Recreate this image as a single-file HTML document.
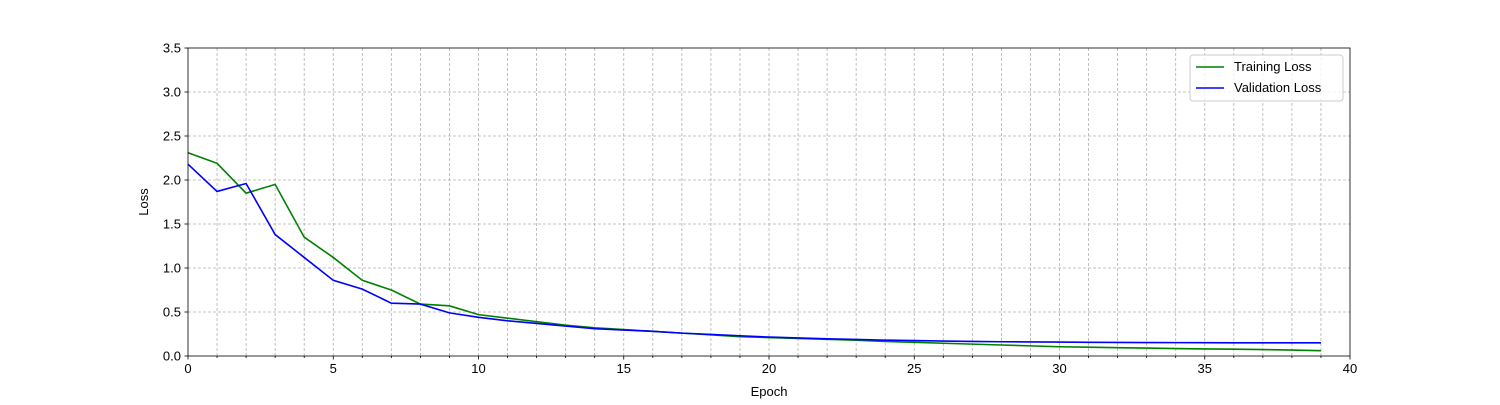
<!DOCTYPE html>
<html><head><meta charset="utf-8"><style>
body{margin:0;background:#fff;}
svg text{font-family:"Liberation Sans","DejaVu Sans",sans-serif;font-size:13px;fill:#000;}
</style></head><body>
<svg id="chart" width="1500" height="400" xmlns="http://www.w3.org/2000/svg"></svg>
<script>
const epochs = Array.from({length:40},(_,i)=>i);
const trainingLoss = [2.31,2.19,1.85,1.95,1.35,1.12,0.86,0.75,0.59,0.57,0.47,0.43,0.39,0.35,0.32,0.30,0.28,0.26,0.24,0.22,0.21,0.20,0.19,0.18,0.165,0.155,0.145,0.135,0.125,0.115,0.105,0.10,0.095,0.09,0.085,0.08,0.077,0.073,0.068,0.06];
const validationLoss = [2.18,1.87,1.96,1.38,1.12,0.86,0.76,0.60,0.59,0.49,0.44,0.40,0.37,0.34,0.31,0.295,0.28,0.26,0.245,0.23,0.215,0.205,0.195,0.188,0.18,0.175,0.17,0.166,0.162,0.16,0.158,0.156,0.154,0.153,0.152,0.151,0.15,0.15,0.15,0.15];
const xTicks = [0,5,10,15,20,25,30,35,40];
const yTicks = [0,0.5,1.0,1.5,2.0,2.5,3.0,3.5];

const L=188,R=1350,T=48,B=356;
const xS=v=>L+(v/40)*(R-L);
const yS=v=>B-(v/3.5)*(B-T);
const svg=document.getElementById('chart');
const NS='http://www.w3.org/2000/svg';
function mk(tag,attrs,parent){const e=document.createElementNS(NS,tag);for(const k in attrs)e.setAttribute(k,attrs[k]);(parent||svg).appendChild(e);return e;}

const grid=mk('g',{});


for(let i=1;i<40;i++){mk('line',{x1:xS(i),x2:xS(i),y1:T,y2:B,stroke:'#b0b0b0','stroke-width':0.8,'stroke-dasharray':'3,2'},grid);}
yTicks.forEach(v=>{if(v>0&&v<3.5)mk('line',{x1:L,x2:R,y1:yS(v),y2:yS(v),stroke:'#b0b0b0','stroke-width':0.8,'stroke-dasharray':'3,2'},grid);});

for(let i=0;i<=40;i++){mk('line',{x1:xS(i),x2:xS(i),y1:B,y2:B+(i%5===0?3.5:2),stroke:'#000','stroke-width':0.8});}
xTicks.forEach(v=>{const t=mk('text',{x:xS(v),y:B+17,'text-anchor':'middle'});t.textContent=v;

});
yTicks.forEach(v=>{mk('line',{x1:L-3.5,x2:L,y1:yS(v),y2:yS(v),stroke:'#000','stroke-width':0.8});
const t=mk('text',{x:L-7,y:yS(v)+4.5,'text-anchor':'end'});t.textContent=v.toFixed(1);

});

function line(data,color,name){const p=mk('polyline',{points:data.map((v,i)=>xS(epochs[i])+','+yS(v)).join(' '),fill:'none',stroke:color,'stroke-width':1.6});

}
line(trainingLoss,'green','training-loss-line');
line(validationLoss,'blue','validation-loss-line');

const frame=mk('rect',{x:L,y:T,width:R-L,height:B-T,fill:'none',stroke:'#000','stroke-width':0.8});



const xt=mk('text',{x:(L+R)/2,y:396,'text-anchor':'middle'});xt.textContent='Epoch';


const yt=mk('text',{x:148,y:(T+B)/2,'text-anchor':'middle',transform:'rotate(-90 148 '+((T+B)/2)+')'});yt.textContent='Loss';



const lg=mk('g',{});


mk('rect',{x:1190,y:55,width:153,height:46,rx:3,fill:'#fff','fill-opacity':0.8,stroke:'#ccc'},lg);
mk('line',{x1:1196,x2:1224,y1:67,y2:67,stroke:'green','stroke-width':1.6},lg);
mk('line',{x1:1196,x2:1224,y1:88,y2:88,stroke:'blue','stroke-width':1.6},lg);
const l1=mk('text',{x:1234,y:71},lg);l1.textContent='Training Loss';


const l2=mk('text',{x:1234,y:92},lg);l2.textContent='Validation Loss';


</script>
</body></html>
